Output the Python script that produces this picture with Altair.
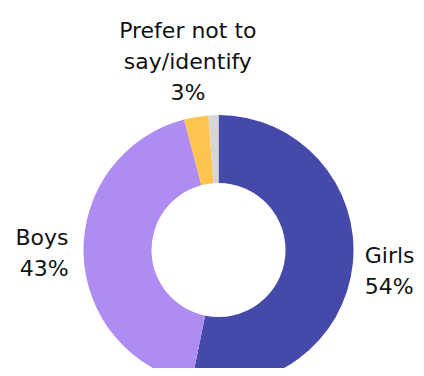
import altair as alt
import pandas as pd

categories = ["Girls", "Boys", "Prefer not to say/identify", "Other"]
values = [53.2, 42.7, 2.9, 1.2]
labels = ["Girls\n54%", "Boys\n43%", "Prefer not to\nsay/identify\n3%", ""]
order = [1, 2, 3, 4]
colors = ["#4449AA", "#AE8CF2", "#FFC44E", "#D6D6D6"]

df = pd.DataFrame({"category": categories, "value": values, "label": labels, "order": order})

XOFF = 6.5
YOFF = 62
FONT = "DejaVu Sans"

arcs = alt.Chart(df).mark_arc(
    outerRadius=135, innerRadius=67, xOffset=XOFF, yOffset=YOFF
).encode(
    theta=alt.Theta("value:Q", stack=True),
    order=alt.Order("order:Q"),
    color=alt.Color("category:N", scale=alt.Scale(domain=categories, range=colors), legend=None),
)

text_base = alt.Chart(df).transform_joinaggregate(
    total="sum(value)"
).transform_window(
    cum="sum(value)", sort=[alt.SortField("order")], frame=[None, 0]
).transform_calculate(
    mid="(datum.cum - datum.value / 2) / datum.total"
)

def label_layer(cat, radius, align, dy):
    return text_base.transform_filter(alt.datum.category == cat).mark_text(
        radius=radius, align=align, baseline="middle", lineBreak="\n", lineHeight=31,
        font=FONT, fontSize=22, color="#111111", xOffset=XOFF, yOffset=YOFF, dy=dy,
    ).encode(
        theta=alt.Theta("mid:Q", scale=alt.Scale(domain=[0, 1])),
        text="label:N",
    )

chart = alt.layer(
    arcs,
    label_layer("Girls", 147, "left", -9),
    label_layer("Boys", 150, "right", -16),
    label_layer("Prefer not to say/identify", 185, "center", -37),
).resolve_scale(theta="independent").properties(
    width=408, height=360, padding=0,
    autosize=alt.AutoSizeParams(type="none"),
).configure_view(stroke=None)

chart.save("out.html", embed_options={"renderer": "svg", "actions": False})
